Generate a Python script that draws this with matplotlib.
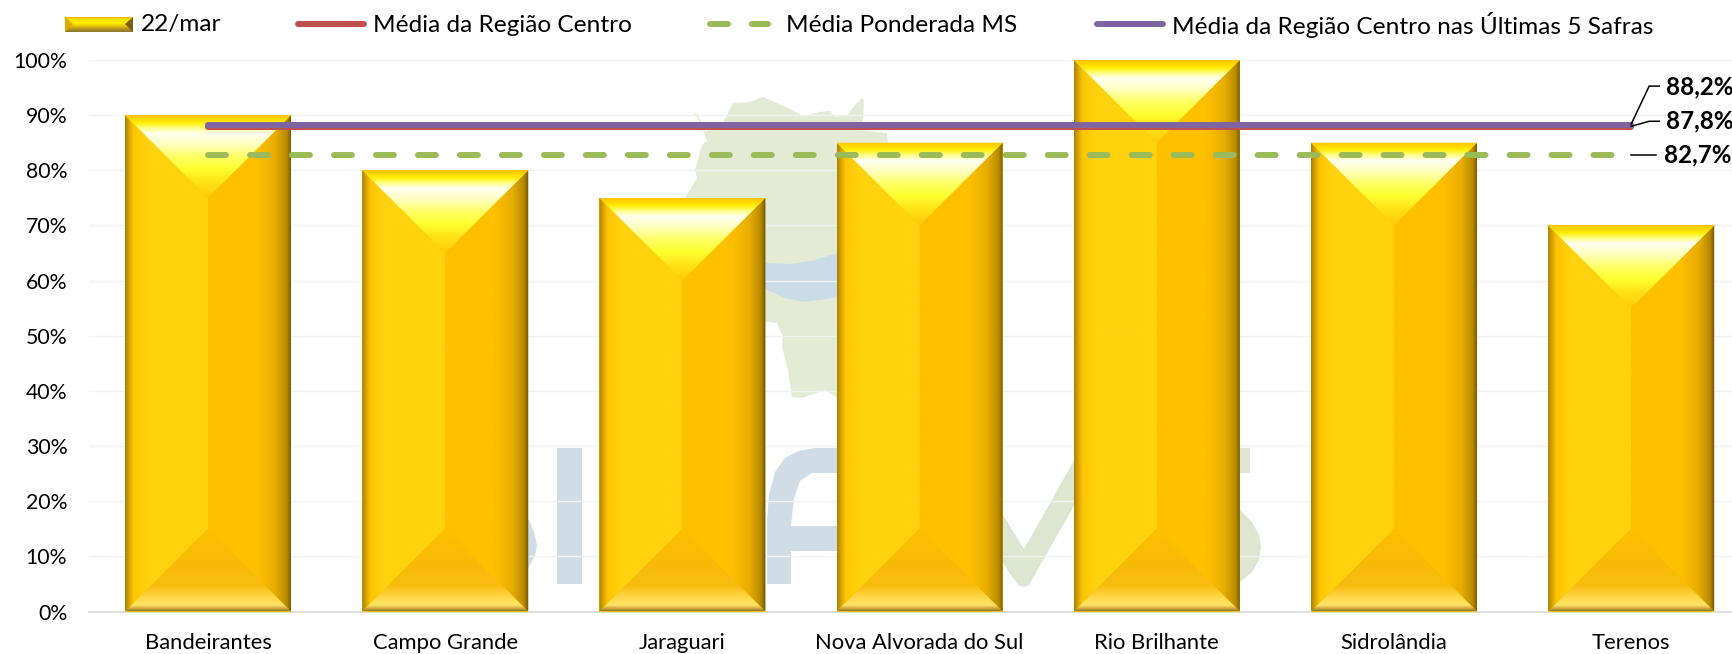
import numpy as np
import matplotlib
matplotlib.use('Agg')
import matplotlib.pyplot as plt
from matplotlib.colors import LinearSegmentedColormap
from matplotlib.lines import Line2D
from matplotlib.patches import Polygon
from matplotlib.transforms import IdentityTransform

plt.rcParams['font.family'] = ['Lato', 'DejaVu Sans']

W, H = 1733, 654

# Chart data
municipios = ['Bandeirantes', 'Campo Grande', 'Jaraguari', 'Nova Alvorada do Sul',
              'Rio Brilhante', 'Sidrolândia', 'Terenos']
colheita_22mar = [90, 80, 75, 85, 100, 85, 70]
media_centro = 87.8
media_ms = 82.7
media_5_safras = 88.2
y_ticks = [0, 10, 20, 30, 40, 50, 60, 70, 80, 90, 100]
y_tick_labels = ['0%', '10%', '20%', '30%', '40%', '50%', '60%', '70%', '80%', '90%', '100%']

# Watermark outlines, in picture pixels
wm_map = [(693, 112), (700, 122), (707, 141), (702, 145), (695, 170), (697, 178), (685, 198),
          (650, 290), (700, 325), (767, 322), (777, 323), (783, 337), (782, 347), (788, 370),
          (792, 397), (802, 398), (825, 390), (837, 398), (890, 330), (888, 143), (887, 133),
          (860, 130), (863, 120), (864, 100), (862, 98), (855, 105), (847, 115), (835, 117),
          (830, 111), (820, 112), (803, 116), (790, 109), (777, 103), (763, 97), (750, 102),
          (733, 103), (723, 122), (705, 132), (698, 115)]
wm_arc = [(740, 250), (767, 263), (790, 264), (815, 260), (840, 252), (840, 297), (805, 302),
          (785, 298), (767, 290), (740, 275)]
wm_s1 = [(515, 505), (529, 520), (534, 532), (537, 545), (535, 556), (529, 567), (515, 590)]
wm_i = [(557, 448), (582, 448), (582, 584), (557, 584)]
wm_a = [(767, 584), (767, 520), (769, 495), (775, 472), (785, 458), (798, 451), (815, 448),
        (840, 448), (840, 473), (812, 473), (800, 481), (794, 498), (791, 526), (840, 526),
        (840, 551), (791, 551), (791, 584)]
wm_m = [(995, 505), (1003, 515), (1024, 549), (1080, 450), (1080, 495), (1033, 578),
        (1029, 585), (1024, 587), (1018, 585), (1013, 578), (1003, 563), (995, 550)]
wm_s2 = [(1230, 448), (1250, 448), (1250, 473), (1230, 473), (1230, 505), (1240, 510),
         (1252, 522), (1259, 535), (1261, 547), (1259, 560), (1252, 572), (1240, 582),
         (1230, 590)]

# Gold bevel colours
left_stops = [(0, '#A88400'), (0.04, '#D09E00'), (0.10, '#FFC400'), (0.26, '#FFD20E'), (1, '#FFD20E')]
right_stops = [(0, '#FFC000'), (0.58, '#FFC000'), (0.80, '#E8AE00'), (0.94, '#B88A00'), (1, '#6B5200')]
top_stops = [(0, '#FFC400'), (0.04, '#FFD400'), (0.09, '#FFEE00'), (0.16, '#FFFF90'),
             (0.22, '#FFFFF0'), (0.35, '#FFFFC0'), (0.5, '#FFFF66'), (0.65, '#FFFF30'),
             (0.8, '#FFE418'), (1, '#FFC80C')]
bottom_stops = [(0, '#FFC000'), (0.45, '#F7BA08'), (0.70, '#F9BD12'), (0.84, '#FFD84A'),
                (0.93, '#FFE566'), (0.97, '#D0A83E'), (1, '#8F7630')]


def px(x, y):
    return x / W, 1 - y / H


def gradient_patch(ax, corners, extent, stops, horizontal, zorder=3.1):
    cmap = LinearSegmentedColormap.from_list('bevel', stops)
    ramp = np.linspace(0, 1, 256)
    ramp = ramp[None, :] if horizontal else ramp[:, None]
    im = ax.imshow(ramp, extent=extent, cmap=cmap, vmin=0, vmax=1, aspect='auto',
                   origin='upper', interpolation='bilinear', zorder=zorder)
    im.set_clip_path(Polygon(corners, closed=True, transform=ax.transData))


def bevel_bar(ax, rect, bevel):
    x0, x1 = rect.get_x(), rect.get_x() + rect.get_width()
    xc = (x0 + x1) / 2
    top = rect.get_height()
    gradient_patch(ax, [(x0, top), (xc, top - bevel), (xc, bevel), (x0, 0)],
                   (x0, xc, 0, top), left_stops, True)
    gradient_patch(ax, [(x1, top), (xc, top - bevel), (xc, bevel), (x1, 0)],
                   (xc, x1, 0, top), right_stops, True)
    gradient_patch(ax, [(x0, top), (x1, top), (xc, top - bevel)],
                   (x0, x1, top - bevel, top), top_stops, False)
    gradient_patch(ax, [(x0, 0), (x1, 0), (xc, bevel)],
                   (x0, x1, 0, bevel), bottom_stops, False)


fig = plt.figure(figsize=(W / 100, H / 100), dpi=100)

# Watermark behind the chart
ax_bg = fig.add_axes([0, 0, 1, 1], zorder=0)
ax_bg.set_xlim(0, W)
ax_bg.set_ylim(H, 0)
ax_bg.axis('off')
ax_bg.add_patch(Polygon(wm_map, closed=True, fc='#E3EBD4', ec='none'))
ax_bg.add_patch(Polygon(wm_arc, closed=True, fc='#CBDCE9', ec='none'))
for shape in [wm_s1, wm_i, wm_a]:
    ax_bg.add_patch(Polygon(shape, closed=True, fc='#D0DCE6', ec='none'))
for shape in [wm_m, wm_s2]:
    ax_bg.add_patch(Polygon(shape, closed=True, fc='#DCE6D0', ec='none'))

# Main axes
left, bottom = px(89.4, 611.5)
_, top_f = px(0, 60)
ax = fig.add_axes([left, bottom, 1 - left, top_f - bottom], zorder=1)
ax.patch.set_visible(False)

x = np.arange(len(municipios))
bars = ax.bar(x, colheita_22mar, width=0.7, color='#FFC000', linewidth=0, zorder=3)
for rect in bars:
    bevel_bar(ax, rect, 15)

line_kw = dict(lw=4.3, solid_capstyle='round', zorder=5)
ax.plot(x, [media_centro] * len(x), color='#C0504D', **line_kw)
ax.plot(x, [media_5_safras] * len(x), color='#8064A2', **line_kw)
ax.plot(x, [media_ms] * len(x), color='#9BBB59', lw=4.3, zorder=5,
        linestyle=(0, (3.01, 4.02)), dash_capstyle='round')

ax.set_xlim(-0.5, (W - 89.4) / 237.2 - 0.5)
ax.set_ylim(0, 100)
ax.set_yticks(y_ticks)
ax.set_yticklabels(y_tick_labels)
ax.set_xticks(x)
ax.set_xticklabels(municipios)
ax.tick_params(axis='y', length=0, pad=16, labelsize=15.3, labelcolor='black')
ax.tick_params(axis='x', length=0, pad=15.5, labelsize=15.8, labelcolor='black')
ax.grid(axis='y', color='#F2F2F2', lw=1, zorder=1)
ax.set_axisbelow(True)
for side in ['top', 'right', 'left']:
    ax.spines[side].set_visible(False)
ax.spines['bottom'].set_color('#D9D9D9')
ax.spines['bottom'].set_linewidth(1.2)

# Data labels with leader lines at the last point
fig.canvas.draw()
labels = [(media_5_safras, '88,2%', 35, 38, [(0, 1), (18, 39), (28, 39)]),
          (media_centro, '87,8%', 35, 6, [(0, 1), (18, 6), (28, 6)]),
          (media_ms, '82,7%', 33, 0, [(0, 0), (25, 0)])]
for val, txt, dx, dy, leader in labels:
    p = ax.transData.transform((x[-1], val))
    ax.annotate(txt, xy=(x[-1], val), xytext=(dx, dy), textcoords='offset pixels',
                fontsize=17.4, fontweight='bold', va='center', ha='left',
                annotation_clip=False, zorder=6)
    fig.add_artist(Line2D([p[0] + a for a, b in leader], [p[1] + b for a, b in leader],
                          color='black', lw=1.1, transform=IdentityTransform(), zorder=6))

# Legend, placed by hand
y_leg = 25
ax_sw = fig.add_axes([65 / W, 1 - 32 / H, 68 / W, 15 / H], zorder=2)
ax_sw.set_xlim(0, 68)
ax_sw.set_ylim(0, 15)
ax_sw.axis('off')
gradient_patch(ax_sw, [(0, 0), (68, 0), (68, 15), (0, 15)], (0, 68, 0, 15),
               [(0, '#E8B800'), (0.15, '#FFE000'), (0.4, '#FFF000'), (0.6, '#E8C800'),
                (0.8, '#B09020'), (1, '#8F7630')], False)
ax_sw.add_patch(Polygon([(0, 0), (0, 15), (8, 8)], closed=True, fc='#E0A800', ec='none', zorder=4))
ax_sw.add_patch(Polygon([(68, 0), (68, 15), (60, 8)], closed=True, fc='#7A6010', ec='none', zorder=4))

leg_lines = [(295, 367, '#C0504D', 'solid'), (707, 771, '#9BBB59', (0, (3, 4))),
             (1094, 1166, '#8064A2', 'solid')]
for x0, x1, col, ls in leg_lines:
    xa, _ = px(x0 + 3, y_leg)
    xb, ya = px(x1 - 3, 24)
    fig.add_artist(Line2D([xa, xb], [ya, ya], color=col, lw=4.3, linestyle=ls,
                          solid_capstyle='round', dash_capstyle='round',
                          transform=fig.transFigure))
leg_texts = [(141, '22/mar'), (373, 'Média da Região Centro'),
             (786, 'Média Ponderada MS'), (1172, 'Média da Região Centro nas Últimas 5 Safras')]
for tx, label in leg_texts:
    xa, ya = px(tx, y_leg)
    fig.text(xa, ya, label, fontsize=17.6, va='center', ha='left', color='black')

fig.savefig('out.png', dpi=100, facecolor='white')
